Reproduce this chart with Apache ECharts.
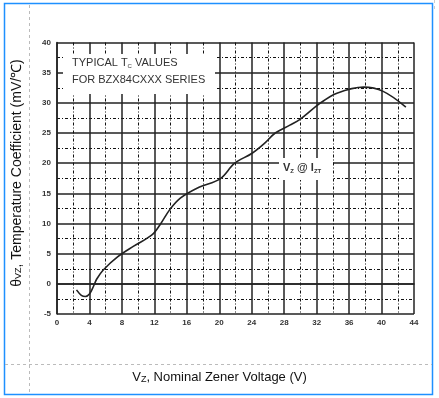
<!DOCTYPE html>
<html>
<head>
<meta charset="utf-8">
<script src="https://cdn.jsdelivr.net/npm/echarts@6/dist/echarts.min.js"></script>
<style>
html, body { margin: 0; padding: 0; background: #fff; }
#chart { width: 439px; height: 398px; }
</style>
</head>
<body>
<div id="chart"></div>
<script>
// curve: Vz (V) and theta_vz (mV/C)
var vz = [2.4, 3.0, 3.5, 4.0, 4.5, 4.9, 5.7, 7.5, 9.4, 11.7, 12.7, 13.9, 15.2, 17.5, 20.1, 21.9, 24.0, 25.5, 26.9, 28.7, 30.0, 32.4, 34.5, 37.8, 40.2, 43.0];
var tc = [-1.0, -1.9, -2.1, -1.7, -0.4, 0.8, 2.3, 4.5, 6.2, 8.1, 9.8, 12.3, 14.2, 16.0, 17.4, 20.0, 21.6, 23.2, 25.0, 26.3, 27.3, 29.9, 31.6, 32.6, 31.9, 29.3];

var xTicks = [0, 4, 8, 12, 16, 20, 24, 28, 32, 36, 40, 44];
var yTicks = [-5, 0, 5, 10, 15, 20, 25, 30, 35, 40];

var points = [];
for (var i = 0; i < vz.length; i++) {
    points.push([vz[i], tc[i]]);
}

var myChart = echarts.init(document.getElementById('chart'));

var minorStyle = { color: '#111', width: 1, type: [3, 2, 1, 2] };

var option = {
    animation: false,
    backgroundColor: '#fff',
    grid: { left: 57, right: 25, top: 42.5, bottom: 84, show: false },
    xAxis: {
        type: 'value',
        min: xTicks[0],
        max: xTicks[xTicks.length - 1],
        interval: 4,
        axisLine: { show: true, lineStyle: { color: '#222', width: 1.5 } },
        axisTick: { show: false },
        axisLabel: { color: '#333', fontSize: 8, fontWeight: 'bold', fontFamily: 'Liberation Sans', margin: 5 },
        splitLine: { show: true, lineStyle: { color: '#222', width: 1.5 } },
        minorTick: { show: false, splitNumber: 2 },
        minorSplitLine: { show: true, lineStyle: minorStyle }
    },
    yAxis: {
        type: 'value',
        min: yTicks[0],
        max: yTicks[yTicks.length - 1],
        interval: 5,
        axisLine: { show: true, lineStyle: { color: '#222', width: 1.5 } },
        axisTick: { show: false },
        axisLabel: { color: '#333', fontSize: 8, fontWeight: 'bold', fontFamily: 'Liberation Sans', margin: 6 },
        splitLine: { show: true, lineStyle: { color: '#222', width: 1.5 } },
        minorTick: { show: false, splitNumber: 2 },
        minorSplitLine: { show: true, lineStyle: minorStyle }
    },
    series: [{
        type: 'line',
        data: points,
        smooth: 0.35,
        showSymbol: false,
        lineStyle: { color: '#222', width: 1.6 },
        z: 5
    }],
    graphic: [
        // outer frame
        { type: 'rect', shape: { x: 4.5, y: 3.5, width: 428, height: 391 }, style: { fill: 'none', stroke: '#1e90ff', lineWidth: 1.5 }, z: 100 },
        { type: 'line', shape: { x1: 29.5, y1: 5, x2: 29.5, y2: 394 }, style: { stroke: '#bbb', lineWidth: 1, lineDash: [3, 3] }, z: 100 },
        { type: 'line', shape: { x1: 5, y1: 364.5, x2: 432, y2: 364.5 }, style: { stroke: '#bbb', lineWidth: 1, lineDash: [3, 3] }, z: 100 },
        { type: 'line', shape: { x1: 434.5, y1: 0, x2: 434.5, y2: 12 }, style: { stroke: '#ccc', lineWidth: 1, lineDash: [3, 3] }, z: 100 },
        // info box
        { type: 'rect', shape: { x: 63, y: 54, width: 152, height: 40 }, style: { fill: '#fff' }, z: 50 },
        {
            type: 'text', left: 72, top: 56, z: 51,
            style: {
                text: '{a|TYPICAL T}{s|C}{a| VALUES}\n{a|FOR BZX84CXXX SERIES}',
                rich: {
                    a: { fontSize: 11, fontFamily: 'Liberation Sans', fill: '#333', lineHeight: 17 },
                    s: { fontSize: 6, fontFamily: 'Liberation Sans', fill: '#333', lineHeight: 17, padding: [7, 0, 0, 0] }
                }
            }
        },
        // Vz @ Izt label
        { type: 'rect', shape: { x: 279, y: 158, width: 54, height: 22 }, style: { fill: '#fff' }, z: 50 },
        {
            type: 'text', left: 283, top: 161, z: 51,
            style: {
                text: '{a|V}{s|Z}{a| @ I}{s|ZT}',
                rich: {
                    a: { fontSize: 11, fontWeight: 'bold', fontFamily: 'Liberation Sans', fill: '#333', lineHeight: 14 },
                    s: { fontSize: 6, fontWeight: 'bold', fontFamily: 'Liberation Sans', fill: '#333', lineHeight: 14, padding: [7, 0, 0, 0] }
                }
            }
        },
        // axis titles
        {
            type: 'text', left: 'center', top: 371, z: 60,
            style: {
                text: '{a|V}{s|Z}{a|, Nominal Zener Voltage (V)}',
                rich: {
                    a: { fontSize: 13, fontFamily: 'Liberation Sans', fill: '#111' },
                    s: { fontSize: 9, fontFamily: 'Liberation Sans', fill: '#111', padding: [4, 0, 0, 0] }
                }
            }
        },
        {
            type: 'text', x: 17, y: 173, rotation: Math.PI / 2, z: 60,
            style: {
                text: '{a|θ}{s|VZ}{a|, Temperature Coefficient (mV/℃)}',
                align: 'center', verticalAlign: 'middle',
                rich: {
                    a: { fontSize: 14, fontFamily: 'Liberation Sans', fill: '#111' },
                    s: { fontSize: 9, fontFamily: 'Liberation Sans', fill: '#111', padding: [4, 0, 0, 0] }
                }
            }
        }
    ]
};

myChart.setOption(option);
</script>
</body>
</html>
